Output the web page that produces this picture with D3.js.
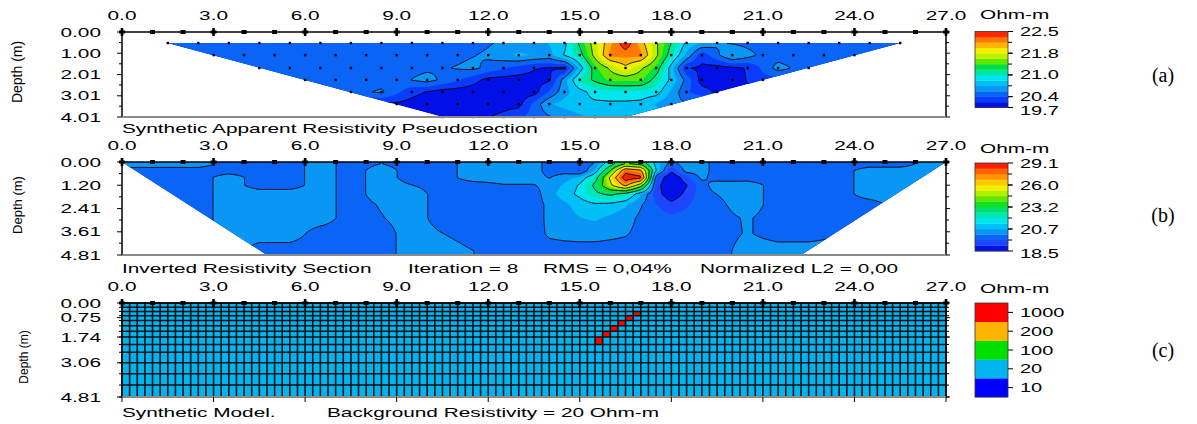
<!DOCTYPE html>
<html>
<head>
<meta charset="utf-8">
<script src="https://cdn.jsdelivr.net/npm/d3@7"></script>
<style>
  body { margin: 0; background: #fff; }
  text { font-family: "Liberation Sans", Arial, sans-serif; fill: #000; }
</style>
</head>
<body>
<svg width="1197" height="424"></svg>
<script>
// ---- data ----------------------------------------------------------------
var xTicks = [0, 3, 6, 9, 12, 15, 18, 21, 24, 27];
var electrodes = d3.range(0, 28);

// (a) apparent resistivity pseudosection, one array per data level
var pseudoDepths = [0.52, 1.09, 1.70, 2.26, 2.83, 3.40, 4.01];
var pseudoStart = [1.5, 3.0, 4.5, 6.0, 7.5, 9.0, 10.5];
var pseudoL1 = [20.15, 20.15, 20.15, 20.15, 20.15, 20.15, 20.15, 20.15, 20.15, 20.18, 20.2, 20.3, 20.35,
                20.6, 21.6, 22.45, 21.5, 20.6, 20.3, 20.2, 20.15, 20.15, 20.15, 20.15, 20.15];
var pseudoL2 = [20.15, 20.15, 20.15, 20.15, 20.15, 20.15, 20.17, 20.2, 20.22, 20.3, 20.5, 20.4,
                20.95, 22.15, 22.15, 20.9, 19.95, 20.5, 20.2, 20.15, 20.15, 20.15];
var pseudoL3 = [20.15, 20.15, 20.15, 20.15, 20.17, 20.2, 20.25, 20.32, 20.1, 19.9, 19.85,
                21.2, 21.8, 21.2, 19.9, 19.8, 19.9, 20.35, 20.15];
var pseudoL4 = [20.15, 20.15, 20.17, 20.2, 20.35, 20.1, 19.82, 19.8, 19.85, 20.9, 21.3, 21.3,
                20.6, 19.8, 19.8, 20.0];
var pseudoL5 = [20.2, 20.3, 19.95, 19.8, 19.78, 19.78, 19.8, 20.4, 20.75, 20.8, 20.75, 20.1, 19.85];
var pseudoL6 = [19.85, 19.78, 19.76, 19.78, 19.82, 20.45, 20.6, 20.62, 20.6, 20.3];
var pseudoL7 = [19.75, 19.8, 19.95, 20.15, 20.35, 20.5, 20.55];
var pseudoLegend = ["22.5", "21.8", "21.0", "20.4", "19.7"];

// (b) inverted model, values at block nodes
var A = 19.85, B = 20.45;
var invCols = [0.5, 1.5, 2.5, 3.5, 4.5, 5.5, 6.5, 7.5, 8.5, 9.5, 10.5, 11.5, 12.5, 13.5, 14, 14.5, 15,
               15.5, 16, 16.5, 17, 17.5, 18, 18.5, 19, 19.5, 20.5, 21.5, 22.5, 23.5, 24.5, 25.5, 26.5];
var invDepths = [0.1, 0.45, 0.8, 1.2, 1.65, 2.2, 2.9, 3.7, 4.6];
var inv0 = [B, B, B, A, A, A, B, A, 20.15, A, A, B, B, B, A, A, 19.7, 20.2, 22.0, 24.0, 23.5, 21.0, 19.9, 20.5, 20.4, A, A, A, A, A, A, A, B];
var inv1 = [A, A, A, A, A, A, B, A, B, A, A, B, B, B, A, A, 19.5, 20.8, 23.8, 27.8, 27.0, 21.2, 19.1, 20.4, 20.4, A, A, A, A, A, B, B, B];
var inv2 = [A, A, A, B, A, A, B, A, B, A, A, B, B, B, 20.1, 20.5, 20.8, 22.0, 25.5, 29.1, 28.6, 19.6, 18.5, 19.4, 20.3, A, A, A, A, A, B, B, B];
var inv3 = [A, A, A, B, A, A, B, A, B, 20.15, A, A, 20.1, 20.1, 20.4, 20.8, 21.4, 22.8, 25.0, 27.0, 24.5, 19.3, 18.4, 19.0, 19.9, B, B, A, A, A, B, B, B];
var inv4 = [A, A, A, B, B, B, B, A, B, B, A, A, A, A, 20.5, 21.0, 21.5, 22.3, 22.8, 22.2, 20.8, 19.3, 18.6, 19.2, 19.9, 20.15, B, A, A, A, B, B, B];
var inv5 = [A, A, A, B, B, B, B, A, 20.2, B, A, A, A, A, 20.3, 20.6, 20.95, 21.2, 21.1, 20.8, 20.2, 19.6, 19.2, 19.5, 19.85, 20.0, B, A, A, A, A, B, B];
var inv6 = [A, A, A, B, B, B, B, A, 20.1, B, A, A, A, A, 20.3, 20.5, 20.7, 20.8, 20.6, 20.4, 20.0, A, 19.7, 19.8, A, 19.95, 20.2, A, A, A, A, B, B];
var inv7 = [A, A, A, B, B, B, A, A, A, B, 20.15, A, A, A, 20.25, 20.35, 20.4, 20.4, 20.3, 20.2, 19.95, A, A, A, A, A, 20.2, A, A, 20.1, B, B, B];
var inv8 = [A, A, A, B, A, A, A, A, A, B, B, 20.15, A, A, A, A, A, A, A, A, A, A, A, A, A, A, B, B, B, B, B, B, B];
var invLegend = ["29.1", "26.0", "23.2", "20.7", "18.5"];

// (c) synthetic model
var modelLayers = [0, 0.22, 0.43, 0.65, 0.9, 1.17, 1.45, 1.74, 2.12, 2.52, 3.06, 3.62, 4.2, 4.81];
var modelCellWidth = 0.25;
var modelBackground = 20;
var dikeX = [15.6, 15.85, 16.1, 16.35, 16.6, 16.85];
var dikeLayer = [7, 6, 5, 4, 3, 2];
var dikeRes = 1000;
var modelLegend = [1000, 200, 100, 20, 10];

// ---- styling -------------------------------------------------------------
var colorsA = ["#0010e6", "#0a3cff", "#0a64f5", "#0a96f5", "#00c0f8", "#00e6f0", "#00e8a0",
               "#00e040", "#60e800", "#c0f000", "#f0f000", "#ffb400", "#ff7800", "#ff2800"];
var colorsB = ["#0010e6", "#1e46ff", "#0a64f5", "#0a96f5", "#00c0f8", "#00e6f0", "#00e8b4", "#00e070",
               "#10e020", "#60e800", "#b0f000", "#f0f000", "#ffc800", "#ff9600", "#ff6400", "#ff1e00"];
var colorsC = ["#ff0000", "#ffb400", "#00e000", "#00b4f0", "#0000ff"];

var SX = 1.6; // wide lettering of the original
var svg = d3.select("svg");
var X = d3.scaleLinear().domain([0, 27]).range([122, 946]);
var yA = d3.scaleLinear().domain([0, 4.01]).range([32, 117]);
var yB = d3.scaleLinear().domain([0, 4.81]).range([162, 255]);
var yC = d3.scaleLinear().domain([0, 4.81]).range([303, 397]);

function txt(g, x, y, s, anchor, size) {
  return g.append("text")
    .attr("transform", "translate(" + x + "," + y + ") scale(" + SX + ",1)")
    .attr("text-anchor", anchor || "start")
    .attr("dy", "0.36em")
    .style("font-size", (size || 13) + "px")
    .text(s);
}

function logLevels(lo, hi, n) {
  return d3.range(n + 1).map(function(i) { return lo * Math.pow(hi / lo, i / n); });
}

function locate(arr, v) {
  var n = arr.length;
  if (v <= arr[0]) return {i: 0, f: 0};
  if (v >= arr[n - 1]) return {i: n - 2, f: 1};
  var i = d3.bisectRight(arr, v) - 1;
  return {i: i, f: (v - arr[i]) / (arr[i + 1] - arr[i])};
}

// ---- value fields --------------------------------------------------------
var pseudoRows = [pseudoL1, pseudoL2, pseudoL3, pseudoL4, pseudoL5, pseudoL6, pseudoL7].map(function(v, k) {
  return {start: pseudoStart[k], depth: pseudoDepths[k], vals: v};
});

function rowAt(r, x) {
  var t = x - r.start, n = r.vals.length - 1;
  if (t <= 0) return r.vals[0];
  if (t >= n) return r.vals[n];
  var i = Math.floor(t), f = t - i;
  return r.vals[i] * (1 - f) + r.vals[i + 1] * f;
}

function pseudoAt(x, z) {
  var p = locate(pseudoDepths, z);
  return rowAt(pseudoRows[p.i], x) * (1 - p.f) + rowAt(pseudoRows[p.i + 1], x) * p.f;
}

var invRows = [inv0, inv1, inv2, inv3, inv4, inv5, inv6, inv7, inv8];
function invAt(x, z) {
  var px = locate(invCols, x), pz = locate(invDepths, z);
  var r0 = invRows[pz.i], r1 = invRows[pz.i + 1];
  var v0 = r0[px.i] * (1 - px.f) + r0[px.i + 1] * px.f;
  var v1 = r1[px.i] * (1 - px.f) + r1[px.i + 1] * px.f;
  return v0 * (1 - pz.f) + v1 * pz.f;
}

// ---- drawing helpers -----------------------------------------------------
function contourPanel(id, valueAt, yS, zmax, levels, colors, poly) {
  var dx = 0.08, x0 = -0.3, nx = Math.ceil((27.6 - x0) / dx);
  var nz = 170, dz = zmax / 160, z0 = -4 * dz;
  var vals = new Array(nx * nz);
  for (var j = 0; j < nz; j++) {
    for (var i = 0; i < nx; i++) vals[j * nx + i] = valueAt(x0 + i * dx, z0 + j * dz);
  }
  var path = d3.geoPath(d3.geoTransform({
    point: function(px, py) { this.stream.point(X(x0 + (px - 0.5) * dx), yS(z0 + (py - 0.5) * dz)); }
  }));
  var pts = poly.map(function(p) { return X(p[0]) + "," + yS(p[1]); }).join(" ");
  svg.append("clipPath").attr("id", id).append("polygon").attr("points", pts);
  var g = svg.append("g").attr("clip-path", "url(#" + id + ")");
  g.append("polygon").attr("points", pts).attr("fill", colors[0]);
  var cs = d3.contours().size([nx, nz]).thresholds(levels.slice(1, -1))(vals);
  cs.forEach(function(c, k) {
    g.append("path").attr("d", path(c)).attr("fill", colors[k + 1]);
  });
  cs.forEach(function(c, k) {
    if (k % 2 === 0) {
      g.append("path").attr("d", path(c)).attr("fill", "none")
        .attr("stroke", "#000").attr("stroke-width", 0.9);
    }
  });
}

function frame(yS, zmax, y0, leftVals, minorVals, depthLabelY, depthSize, depthX) {
  var g = svg.append("g");
  g.append("line").attr("x1", X(0)).attr("x2", X(27)).attr("y1", y0).attr("y2", y0)
    .attr("stroke", "#000").attr("stroke-width", 1.5);
  electrodes.forEach(function(e) {
    if (e % 3 === 0) {
      g.append("rect").attr("x", X(e) - 1.3).attr("y", y0 - 4).attr("width", 2.6).attr("height", 8);
      g.append("rect").attr("x", X(e) - 3).attr("y", y0 - 1.5).attr("width", 6).attr("height", 3);
    } else {
      g.append("rect").attr("x", X(e) - 2.5).attr("y", y0 - 2).attr("width", 5).attr("height", 4);
    }
  });
  xTicks.forEach(function(t) { txt(g, X(t), y0 - 17, d3.format(".1f")(t), "middle"); });
  g.append("line").attr("x1", X(0)).attr("x2", X(0)).attr("y1", y0).attr("y2", yS(zmax))
    .attr("stroke", "#000").attr("stroke-width", 1.5);
  g.append("line").attr("x1", X(27)).attr("x2", X(27)).attr("y1", y0).attr("y2", yS(zmax))
    .attr("stroke", "#000").attr("stroke-width", 1.5);
  minorVals.forEach(function(v) {
    g.append("line").attr("x1", X(0) - 3).attr("x2", X(0)).attr("y1", yS(v)).attr("y2", yS(v)).attr("stroke", "#000");
    g.append("line").attr("x1", X(27)).attr("x2", X(27) + 3).attr("y1", yS(v)).attr("y2", yS(v)).attr("stroke", "#000");
  });
  leftVals.forEach(function(v) {
    g.append("line").attr("x1", X(0) - 5).attr("x2", X(0)).attr("y1", yS(v)).attr("y2", yS(v)).attr("stroke", "#000");
    g.append("line").attr("x1", X(27)).attr("x2", X(27) + 4).attr("y1", yS(v)).attr("y2", yS(v)).attr("stroke", "#000");
    txt(g, 101, yS(v), d3.format(".2f")(v), "end");
  });
  g.append("line").attr("x1", X(0)).attr("x2", X(27)).attr("y1", yS(zmax)).attr("y2", yS(zmax))
    .attr("stroke", "#8a8a8a").attr("stroke-width", 2);
  g.append("text")
    .attr("transform", "translate(" + depthX + "," + depthLabelY + ") rotate(-90)")
    .attr("text-anchor", "middle").attr("dy", "0.36em")
    .style("font-size", depthSize + "px").text("Depth (m)");
  return g;
}

function colorBar(y0, y1, colors, labels, labelEvery, ohmY, centred) {
  var g = svg.append("g");
  var n = colors.length, h = (y1 - y0) / n;
  // colors listed low to high; top of the bar is the highest
  colors.forEach(function(c, k) {
    g.append("rect").attr("x", 975).attr("y", y1 - (k + 1) * h).attr("width", 33).attr("height", h + 0.3).attr("fill", c);
  });
  g.append("rect").attr("x", 975).attr("y", y0).attr("width", 33).attr("height", y1 - y0)
    .attr("fill", "none").attr("stroke", "#333").attr("stroke-width", 0.8);
  labels.forEach(function(s, i) {
    var y = centred ? y0 + (i + 0.5) * h : y0 + Math.min(i * labelEvery, n) * h;
    g.append("line").attr("x1", 1008).attr("x2", 1013).attr("y1", y).attr("y2", y).attr("stroke", "#000");
    var ly = (!centred && i === labels.length - 1) ? y + 2.5 : y;
    txt(g, 1020, ly, s, "start", 12.5);
  });
  if (!centred) {
    for (var k = 2; k < n; k += 2) {
      var y = y0 + k * h;
      g.append("line").attr("x1", 1008).attr("x2", 1012).attr("y1", y).attr("y2", y).attr("stroke", "#000");
    }
  }
  txt(g, 980, ohmY, "Ohm-m", "start");
}

// ---- (a) pseudosection ---------------------------------------------------
var levelsA = logLevels(19.7, 22.5, colorsA.length);
contourPanel("clipA", pseudoAt, yA, 4.01, levelsA, colorsA,
  [[pseudoStart[0], pseudoDepths[0]], [27 - pseudoStart[0], pseudoDepths[0]],
   [27 - pseudoStart[6], pseudoDepths[6]], [pseudoStart[6], pseudoDepths[6]]]);
var dots = svg.append("g");
pseudoRows.forEach(function(r) {
  r.vals.forEach(function(v, k) {
    dots.append("rect").attr("x", X(r.start + k) - 1.2).attr("y", yA(r.depth) - 1.2)
      .attr("width", 2.4).attr("height", 2.4).attr("fill", "#000");
  });
});
var fa = frame(yA, 4.01, 32, [0, 1.00, 2.01, 3.01, 4.01], [0.5, 1.5, 2.5, 3.5], 72, 14, 17);
txt(fa, 122, 128, "Synthetic Apparent Resistivity Pseudosection", "start");
colorBar(31.5, 107.5, colorsA, pseudoLegend, 4, 14, false);

// ---- (b) inverted section ------------------------------------------------
var levelsB = logLevels(18.5, 29.1, colorsB.length);
contourPanel("clipB", invAt, yB, 4.81, levelsB, colorsB,
  [[0, 0], [27, 0], [22.25, 4.81], [4.75, 4.81]]);
var fb = frame(yB, 4.81, 162, [0, 1.20, 2.41, 3.61, 4.81], [0.6, 1.8, 3.0, 4.2], 205, 13, 17);
txt(fb, 122, 268, "Inverted Resistivity Section", "start");
txt(fb, 408, 268, "Iteration = 8", "start");
txt(fb, 543, 268, "RMS = 0,04%", "start");
txt(fb, 700, 268, "Normalized L2 = 0,00", "start");
colorBar(163, 251, colorsB, invLegend, 4, 148, false);

// ---- (c) synthetic model -------------------------------------------------
function modelColor(v) {
  var i = modelLegend.indexOf(v);
  return colorsC[i < 0 ? 3 : i];
}
var gc = svg.append("g");
gc.append("rect").attr("x", X(0)).attr("y", yC(0)).attr("width", X(27) - X(0)).attr("height", yC(4.81) - yC(0))
  .attr("fill", modelColor(modelBackground));
dikeX.forEach(function(x, k) {
  var c = Math.floor(x / modelCellWidth), l = dikeLayer[k];
  gc.append("rect").attr("x", X(c * modelCellWidth)).attr("y", yC(modelLayers[l]))
    .attr("width", X(modelCellWidth) - X(0)).attr("height", yC(modelLayers[l + 1]) - yC(modelLayers[l]))
    .attr("fill", modelColor(dikeRes));
});
var nCols = Math.round(27 / modelCellWidth);
for (var c = 0; c <= nCols; c++) {
  gc.append("line").attr("x1", X(c * modelCellWidth)).attr("x2", X(c * modelCellWidth))
    .attr("y1", yC(0)).attr("y2", yC(4.81)).attr("stroke", "#111").attr("stroke-width", 1.6);
}
modelLayers.forEach(function(d) {
  gc.append("line").attr("x1", X(0)).attr("x2", X(27)).attr("y1", yC(d)).attr("y2", yC(d))
    .attr("stroke", "#111").attr("stroke-width", 1.5);
});
var fc = frame(yC, 4.81, 303, [0, 0.75, 1.74, 3.06, 4.81], modelLayers, 357, 12, 24);
xTicks.forEach(function(t) {
  fc.append("line").attr("x1", X(t)).attr("x2", X(t)).attr("y1", yC(4.81)).attr("y2", yC(4.81) + 5).attr("stroke", "#000");
});
txt(fc, 122, 412, "Synthetic Model.", "start");
txt(fc, 327, 412, "Background Resistivity = 20 Ohm-m", "start");
colorBar(303, 397, colorsC.slice().reverse(), modelLegend.map(String), 1, 288, true);

// ---- panel tags ------------------------------------------------------------
[["(a)", 75], ["(b)", 215], ["(c)", 350]].forEach(function(t) {
  svg.append("text").attr("x", 1163).attr("y", t[1]).attr("dy", "0.35em").attr("text-anchor", "middle")
    .style("font-family", "'Liberation Serif', 'Times New Roman', serif").style("font-size", "20px").text(t[0]);
});
</script>
</body>
</html>
